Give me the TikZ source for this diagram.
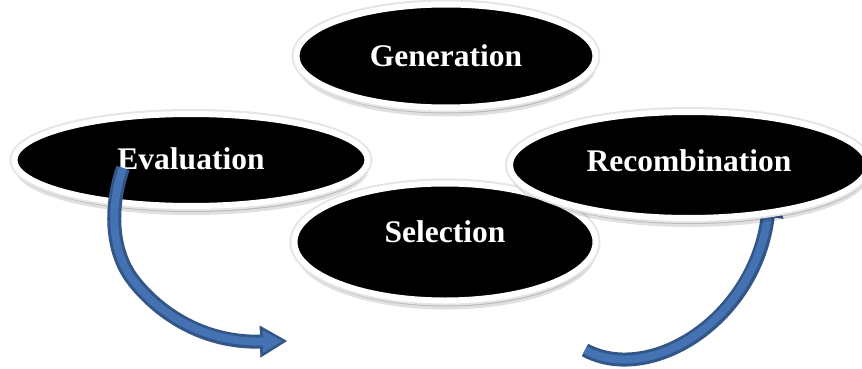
\documentclass[tikz,border=0pt]{standalone}
\usepackage{fontspec}
\setmainfont{Liberation Serif}
\usetikzlibrary{shapes.geometric,shadows,arrows.meta}

\definecolor{arrowfill}{RGB}{68,114,178}
\definecolor{arrowedge}{RGB}{50,86,136}
\newcommand{\stagefont}{\fontsize{31.5}{36}\selectfont\bfseries}

\tikzset{
  stage/.style={ellipse, inner sep=0pt, fill=black, text=white, font=\stagefont,
    drop shadow={shadow xshift=1pt, shadow yshift=-9pt, opacity=.12, fill=black},
    drop shadow={shadow xshift=1pt, shadow yshift=-6pt, opacity=.18, fill=black},
    drop shadow={shadow xshift=0pt, shadow yshift=-3pt, opacity=.2, fill=black},
    preaction={draw=black!10, line width=10pt},
    draw=white, line width=6pt},
  flowarrow/.style={draw=arrowedge, line width=14pt,
    -{Triangle[length=27pt,width=32pt,line width=.8pt]},
    postaction={draw=arrowfill, line width=8pt, shorten >=5pt,
      -{Triangle[length=19pt,width=22pt,line width=.8pt]}}}
}

\begin{document}
\begin{tikzpicture}[x=1pt,y=-1pt]
  \useasboundingbox (0,0) rectangle (862,369);

  % the four stages
  \node[stage, minimum width=299pt, minimum height=103pt] (gen) at (446,56) {Generation};
  \node[stage, minimum width=301pt, minimum height=117pt, text depth=20pt] (sel) at (445,242) {Selection};
  \node[stage, minimum width=353pt, minimum height=92pt, text depth=3pt] (eval) at (191,160) {Evaluation};

  % right arrow runs under Recombination
  \coordinate (rtail) at (585,350);
  \coordinate (rhead) at (771,190);
  \draw[flowarrow] (rtail) .. controls (650,385) and (755,320) .. (rhead);

  \node[stage, minimum width=358pt, minimum height=106pt, text depth=8pt] (recomb) at (689,165) {Recombination};

  % left arrow out of Evaluation
  \coordinate (ltail) at (123,168);
  \coordinate (lbend) at (133,280);
  \coordinate (lhead) at (287,341);
  \draw[flowarrow] (ltail) .. controls (110,205) and (110,250) .. (lbend)
    .. controls (156,310) and (200,343) .. (lhead);
\end{tikzpicture}
\end{document}
